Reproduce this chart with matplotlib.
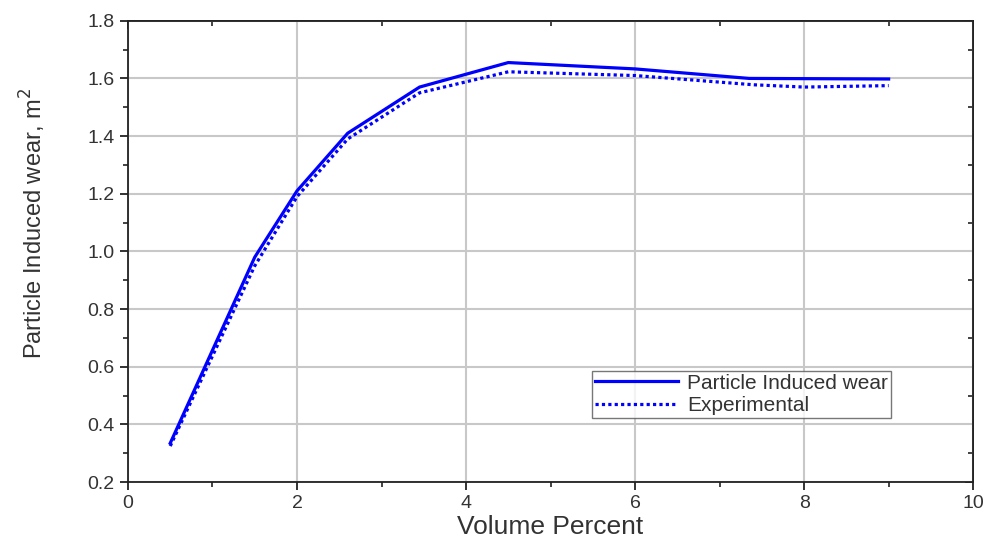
import matplotlib.pyplot as plt
from matplotlib.ticker import MultipleLocator, NullFormatter

plt.rcParams['font.family'] = ['Liberation Sans', 'DejaVu Sans']

# solid: model
x_model = [0.5, 1.5, 2.0, 2.6, 3.45, 4.5, 6.0, 7.35, 9.0]
y_model = [0.335, 0.98, 1.21, 1.41, 1.57, 1.655, 1.633, 1.60, 1.598]

# dotted: experiment
x_exp = [0.5, 1.5, 2.0, 2.6, 3.45, 4.5, 6.0, 7.4, 8.0, 9.0]
y_exp = [0.325, 0.95, 1.19, 1.39, 1.55, 1.623, 1.61, 1.578, 1.57, 1.575]

fig = plt.figure(figsize=(9.92, 5.46), dpi=100)
ax = fig.add_axes([0.129, 0.117, 0.852, 0.845])

ax.plot(x_model, y_model, color='#0000ff', lw=2.3, label='Particle Induced wear')
ax.plot(x_exp, y_exp, color='#0000ff', lw=2.3, linestyle=(0, (1, 1)), label='Experimental')

ax.set_xlim(0, 10)
ax.set_ylim(0.2, 1.8)
ax.xaxis.set_major_locator(MultipleLocator(2))
ax.xaxis.set_minor_locator(MultipleLocator(1))
ax.yaxis.set_major_locator(MultipleLocator(0.2))
ax.yaxis.set_minor_locator(MultipleLocator(0.1))
ax.yaxis.set_major_formatter(lambda v, p: f'{v:.1f}')
ax.grid(True, which='major', color='#c8c8c8', lw=1.5)
ax.set_axisbelow(True)

for s in ax.spines.values():
    s.set_linewidth(1.3)
    s.set_color('#222222')
ax.tick_params(which='major', direction='out', length=6, width=1.3, labelsize=14,
               colors='#222222', labelcolor='#333333')
ax.tick_params(which='minor', direction='out', length=3.5, width=1.2, colors='#222222')

# inward ticks on top and right, no labels
top = ax.secondary_xaxis('top')
right = ax.secondary_yaxis('right')
for axis, maj, mnr in [(top.xaxis, 2, 1), (right.yaxis, 0.2, 0.1)]:
    axis.set_major_locator(MultipleLocator(maj))
    axis.set_minor_locator(MultipleLocator(mnr))
    axis.set_major_formatter(NullFormatter())
for sec in (top, right):
    sec.tick_params(which='major', direction='in', length=6, width=1.3, colors='#222222')
    sec.tick_params(which='minor', direction='in', length=3.5, width=1.2, colors='#222222')
    for s in sec.spines.values():
        s.set_linewidth(1.3)
        s.set_color('#222222')

ax.set_xlabel('Volume Percent', fontsize=19, color='#333333', labelpad=2)
ax.set_ylabel('Particle Induced wear, m$^2$', fontsize=17, color='#333333')
ax.yaxis.set_label_coords(-0.095, 0.56)

leg = ax.legend(loc='lower left', bbox_to_anchor=(0.549, 0.139),
                fontsize=15, frameon=True, fancybox=False, handlelength=4,
                borderpad=0.15, labelspacing=0.15, handletextpad=0.4, borderaxespad=0)
leg.get_frame().set_edgecolor('#555555')
leg.get_frame().set_linewidth(1.0)
for t in leg.get_texts():
    t.set_color('#333333')

fig.savefig('out.png', dpi=100)
